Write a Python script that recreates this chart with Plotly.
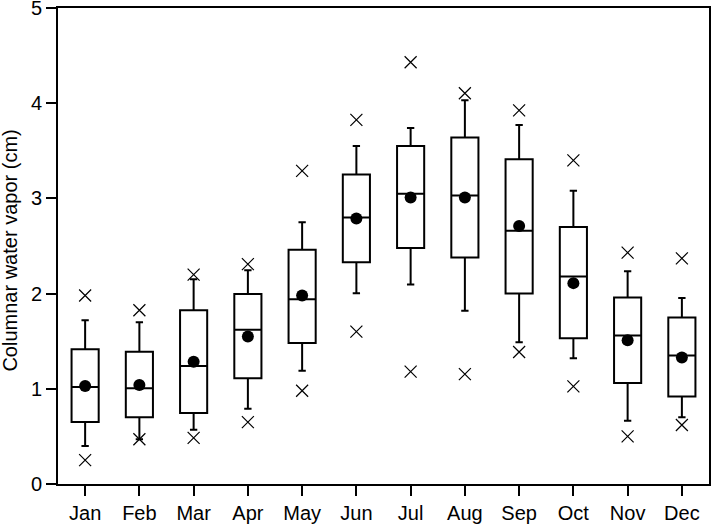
import plotly.graph_objects as go

months = ["Jan", "Feb", "Mar", "Apr", "May", "Jun", "Jul", "Aug", "Sep", "Oct", "Nov", "Dec"]
q1 = [0.65, 0.70, 0.745, 1.11, 1.48, 2.33, 2.48, 2.38, 2.0, 1.53, 1.06, 0.92]
median = [1.02, 1.005, 1.24, 1.62, 1.94, 2.80, 3.05, 3.03, 2.66, 2.18, 1.56, 1.35]
q3 = [1.415, 1.39, 1.825, 1.995, 2.46, 3.25, 3.55, 3.64, 3.41, 2.70, 1.96, 1.75]
whisker_low = [0.40, 0.47, 0.57, 0.79, 1.19, 2.005, 2.095, 1.82, 1.49, 1.32, 0.665, 0.70]
whisker_high = [1.72, 1.70, 2.15, 2.245, 2.75, 3.55, 3.74, 4.03, 3.77, 3.08, 2.235, 1.955]
mean = [1.03, 1.04, 1.285, 1.55, 1.98, 2.79, 3.01, 3.01, 2.71, 2.11, 1.51, 1.33]
max_val = [1.98, 1.825, 2.20, 2.31, 3.29, 3.825, 4.43, 4.105, 3.925, 3.40, 2.43, 2.37]
min_val = [0.25, 0.47, 0.485, 0.65, 0.98, 1.60, 1.18, 1.155, 1.387, 1.026, 0.50, 0.62]
y_ticks = [0, 1, 2, 3, 4, 5]

fig = go.Figure()
fig.add_trace(go.Box(
    x=months, q1=q1, median=median, q3=q3,
    lowerfence=whisker_low, upperfence=whisker_high,
    boxpoints=False, width=0.5, whiskerwidth=0.27,
    fillcolor="white", line=dict(color="black", width=2),
    showlegend=False, hoverinfo="skip",
))
fig.add_trace(go.Scatter(
    x=months, y=mean, mode="markers",
    marker=dict(symbol="circle", size=12, color="black"),
    showlegend=False,
))
fig.add_trace(go.Scatter(
    x=months + months, y=max_val + min_val, mode="markers",
    marker=dict(symbol="x-thin", size=12, color="black",
                line=dict(color="black", width=1.2)),
    showlegend=False,
))

font = "Liberation Sans, Arial, Helvetica, sans-serif"
fig.update_layout(
    width=711, height=526,
    margin=dict(l=58, r=2, t=8, b=39),
    paper_bgcolor="white", plot_bgcolor="white",
    font=dict(family=font, size=20, color="black"),
    showlegend=False,
    annotations=[dict(
        text="Columnar water vapor (cm)", textangle=-90,
        xref="paper", yref="paper", x=-0.074, y=0.49,
        xanchor="center", yanchor="middle", showarrow=False,
        font=dict(family=font, size=20, color="black"),
    )],
)
fig.update_xaxes(
    type="category", categoryorder="array", categoryarray=months,
    range=[-0.5, 11.5],
    showline=True, linecolor="black", linewidth=2, mirror=True,
    ticks="outside", ticklen=10, tickwidth=2, tickcolor="black",
    showgrid=False, zeroline=False,
    tickfont=dict(family=font, size=20),
)
fig.update_yaxes(
    range=[0, 5.0001], tickmode="array", tickvals=y_ticks,
    showline=True, linecolor="black", linewidth=2, mirror=True,
    ticks="outside", ticklen=10, tickwidth=2, tickcolor="black",
    showgrid=False, zeroline=False, automargin=False,
    ticklabeloverflow="allow",
    tickfont=dict(family=font, size=20),
)
fig.write_html(
    "out.html",
    config={"displayModeBar": False},
    post_script="document.body.style.margin='0';document.body.style.overflow='hidden';",
)
